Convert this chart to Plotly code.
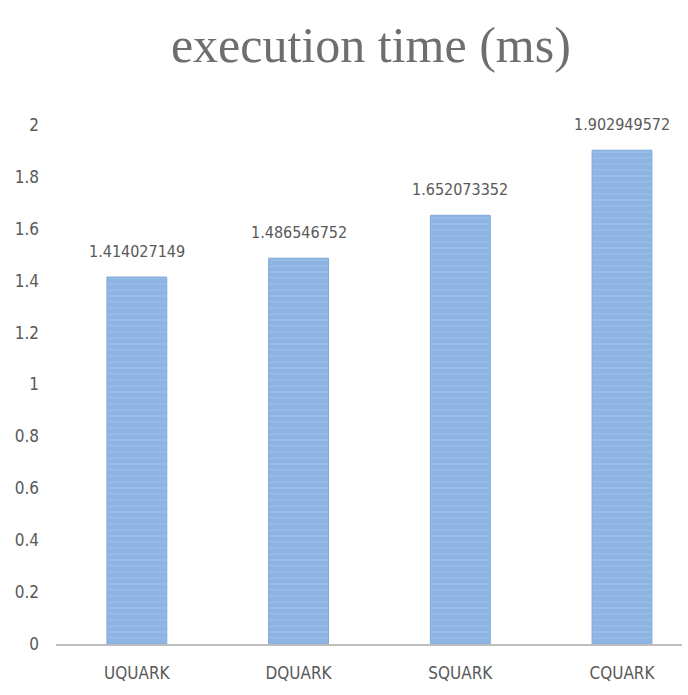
import plotly.graph_objects as go

# Mean execution time per quark flavour, in milliseconds
categories = ["UQUARK", "DQUARK", "SQUARK", "CQUARK"]
exec_time_ms = [1.414027149, 1.486546752, 1.652073352, 1.902949572]
y_ticks = [0, 0.2, 0.4, 0.6, 0.8, 1, 1.2, 1.4, 1.6, 1.8, 2]

label_font = "Liberation Sans Narrow, DejaVu Sans Condensed, Roboto, sans-serif"
text_gray = "#595959"

fig = go.Figure(
    go.Bar(
        x=categories,
        y=exec_time_ms,
        width=0.37,
        marker=dict(
            color="#8db4e2",
            line=dict(color="#7fa8da", width=1),
            pattern=dict(shape="-", fgcolor="#a8c7ec", bgcolor="#8db4e2",
                         size=6, solidity=0.25, fillmode="overlay"),
        ),
        hoverinfo="x+y",
    )
)

# value labels above each bar
for cat, val in zip(categories, exec_time_ms):
    fig.add_annotation(
        x=cat,
        y=val,
        text=str(val),
        showarrow=False,
        xanchor="center",
        yanchor="bottom",
        yshift=14,
        font=dict(family=label_font, size=16, color=text_gray),
    )

fig.update_layout(
    width=688,
    height=695,
    paper_bgcolor="white",
    plot_bgcolor="white",
    margin=dict(l=56, r=6, t=125, b=51),
    showlegend=False,
    title=dict(
        text="execution time (ms)",
        font=dict(family="Liberation Serif, Times New Roman, serif", size=50, color="#6e6e6e"),
        x=0.503,
        xanchor="center",
        xref="paper",
        yref="container",
        y=1 - 44 / 695,
        yanchor="middle",
    ),
)

fig.update_xaxes(
    range=[-0.5, 3.371],
    showline=True,
    linecolor="#bdbdbd",
    linewidth=2,
    showgrid=False,
    ticks="",
    ticklabelstandoff=13,
    tickfont=dict(family=label_font, size=17, color=text_gray),
    zeroline=False,
)

fig.update_yaxes(
    range=[0, 2],
    tickvals=y_ticks,
    ticktext=[f"{t:g}" for t in y_ticks],
    showgrid=False,
    showline=False,
    zeroline=False,
    ticks="",
    ticklabelstandoff=16,
    tickfont=dict(family=label_font, size=17, color=text_gray),
)

fig.write_html("out.html")
